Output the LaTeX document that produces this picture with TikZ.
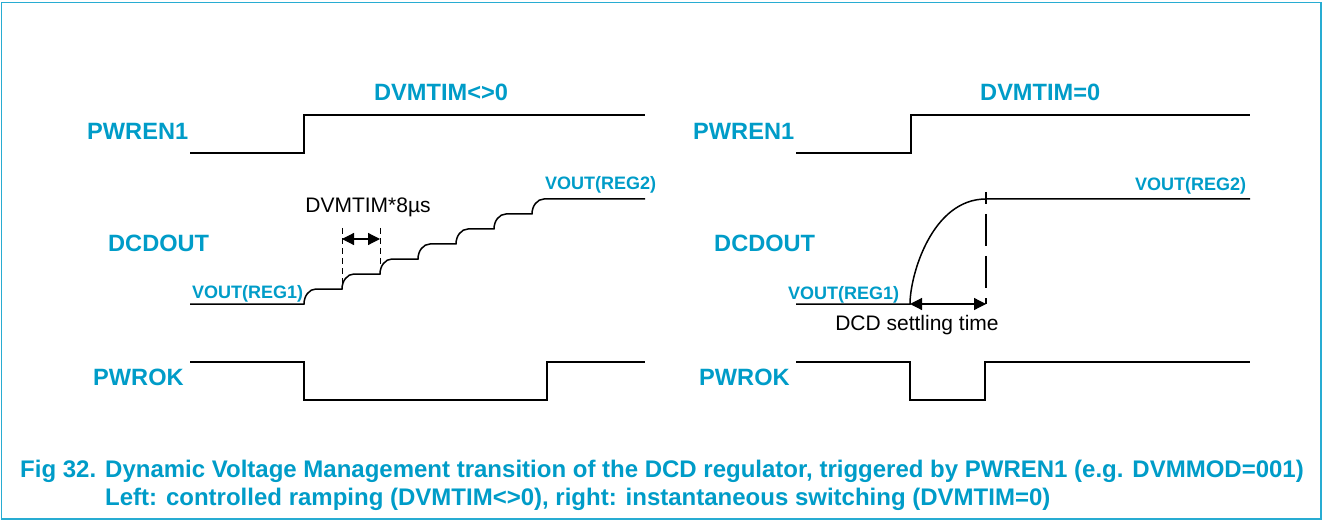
\documentclass[tikz,border=0pt]{standalone}
\usepackage{fontspec}
\setmainfont{Liberation Sans}
\usetikzlibrary{arrows.meta}
\definecolor{nxpblue}{RGB}{0,156,200}
\definecolor{framecol}{RGB}{40,172,210}
\begin{document}
\begin{tikzpicture}[x=1pt,y=-1pt,
  sig/.style={line width=1.5pt, line join=miter},
  lbl/.style={text=nxpblue, font=\fontsize{23.6}{28}\selectfont\bfseries, inner sep=0pt, anchor=base west},
  vlbl/.style={text=nxpblue, font=\fontsize{18}{22}\selectfont\bfseries, inner sep=0pt, anchor=base west},
  note/.style={font=\fontsize{21}{25}\selectfont, inner sep=0pt, anchor=base},
  caption/.style={text=nxpblue, font=\fontsize{24}{28}\selectfont\bfseries, inner sep=0pt, anchor=base west},
  dim/.style={line width=1.2pt, {Triangle[length=12pt,width=12pt]}-{Triangle[length=12pt,width=12pt]}},
  guide/.style={line width=1pt, dash pattern=on 6pt off 4pt},
  longguide/.style={line width=1.5pt, dash pattern=on 32pt off 10pt, dash phase=20pt}]
\useasboundingbox (0,0) rectangle (1324,521);
\draw[framecol, line width=1.4pt] (1.5,2.5) rectangle (1321,519);

% ---------------- left panel: controlled ramping ----------------
\node[lbl] (titleL) at (374,100.7) {DVMTIM<>0};
\node[lbl] (pwrenL) at (87,139.3) {PWREN1};
\node[lbl] (dcdL) at (108,251.7) {DCDOUT};
\node[lbl] (pwrokL) at (93,385) {PWROK};
\node[vlbl] (reg1L) at (192,298) {VOUT(REG1)};
\node[vlbl] (reg2L) at (545,190) {VOUT(REG2)};

\draw[sig] (190,153) -- (304,153) -- (304,115) -- (645,115);

% staircase: seven rounded steps of 38 x 15
\draw[sig] (190,304) -- (304,304)
  \foreach \i in {0,...,6} {
    .. controls ({304+38*\i},{304-15*\i-8.3}) and ({304+38*\i+5.4},{304-15*\i-15}) ..
    ({304+38*\i+12},{304-15*\i-15}) -- ({304+38*(\i+1)},{304-15*\i-15})
  } -- (645,199);

\coordinate (gA) at (342,289);
\coordinate (gB) at (380,274);
\coordinate (gAtop) at (342,228);
\coordinate (gBtop) at (380,228);
\draw[guide] (gAtop) -- (gA);
\draw[guide] (gBtop) -- (gB);
\coordinate (dA) at (342,239);
\coordinate (dB) at (380,239);
\draw[dim] (dA) -- (dB);
\node[note] (stepnote) at (368,213) {DVMTIM*8µs};

\draw[sig] (190,362) -- (304,362) -- (304,400) -- (547,400) -- (547,362) -- (645,362);

% ---------------- right panel: instantaneous switching ----------------
\node[lbl] (titleR) at (980,100.7) {DVMTIM=0};
\node[lbl] (pwrenR) at (693,139.3) {PWREN1};
\node[lbl] (dcdR) at (714,251.7) {DCDOUT};
\node[lbl] (pwrokR) at (699,385) {PWROK};
\node[vlbl] (reg1R) at (788,299) {VOUT(REG1)};
\node[vlbl] (reg2R) at (1135,191) {VOUT(REG2)};

\draw[sig] (796,153) -- (911,153) -- (911,115) -- (1250,115);

\coordinate (cs) at (910,304);
\coordinate (ce) at (986,199);
\draw[sig] (796,304) -- (cs) .. controls (910,275) and (932,199) .. (ce) -- (1250,199);

\coordinate (st) at (986,192);
\coordinate (sb) at (986,304);
\draw[longguide] (st) -- (sb);
\draw[dim] (cs) -- (sb);
\node[note] (settle) at (917,330) {DCD settling time};

\draw[sig] (796,362) -- (910,362) -- (910,400) -- (985,400) -- (985,362) -- (1250,362);

% ---------------- caption ----------------
\node[caption] (fignum) at (20,477) {Fig 32.};
\node[caption] (cap1) at (105,477) {Dynamic Voltage Management transition of the DCD regulator, triggered by PWREN1 (e.g. DVMMOD=001)};
\node[caption] (cap2) at (105,505) {Left: controlled ramping (DVMTIM<>0), right: instantaneous switching (DVMTIM=0)};
\end{tikzpicture}
\end{document}
